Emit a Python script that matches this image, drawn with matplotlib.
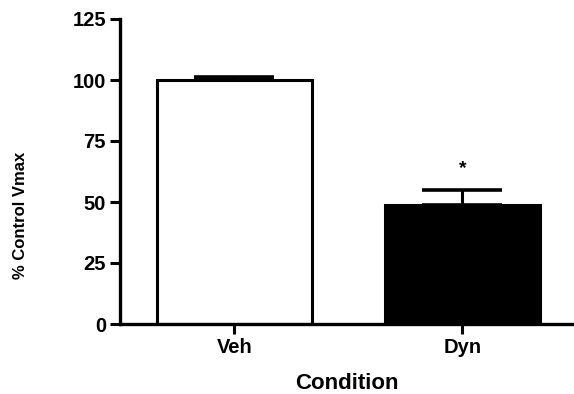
import matplotlib
matplotlib.use("Agg")
import matplotlib.pyplot as plt

conditions = ["Veh", "Dyn"]
vmax_pct = [100.0, 48.8]
sem_pct = [1.3, 6.1]
bar_colors = ["white", "black"]
y_ticks = [0, 25, 50, 75, 100, 125]

plt.rcParams["font.family"] = ["Liberation Sans", "DejaVu Sans"]
plt.rcParams["font.weight"] = "bold"

fig = plt.figure(figsize=(5.74, 3.94), dpi=100)
ax = fig.add_axes([120 / 574, 1 - 324 / 394, 453 / 574, 305 / 394])

x = list(range(len(conditions)))
ax.bar(x, vmax_pct, width=0.68, color=bar_colors, edgecolor="black",
       linewidth=2.2, zorder=2)
ax.errorbar(x, vmax_pct, yerr=[[0, 0], sem_pct], fmt="none", ecolor="black",
            elinewidth=2.2, capsize=28.8, capthick=2.6, zorder=1)

# significance marker
ax.text(x[1], vmax_pct[1] + sem_pct[1] + 9, "*", ha="center", va="center",
        fontsize=14, fontweight="bold")

ax.set_xlim(-0.502, 1.485)
ax.set_ylim(0, 125)
ax.set_yticks(y_ticks)
ax.set_xticks(x)
ax.set_xticklabels(conditions)

for side in ["top", "right"]:
    ax.spines[side].set_visible(False)
for side in ["left", "bottom"]:
    ax.spines[side].set_linewidth(2.4)

ax.tick_params(axis="both", length=7, width=2.2, labelsize=14.5, pad=3)

ax.set_ylabel("% Control Vmax", fontsize=12, fontweight="bold")
ax.yaxis.set_label_coords(-0.203, 0.356)
ax.set_xlabel("Condition", fontsize=16, fontweight="bold")
ax.xaxis.set_label_coords(0.5, -0.16)

fig.savefig("out.png", dpi=100)
